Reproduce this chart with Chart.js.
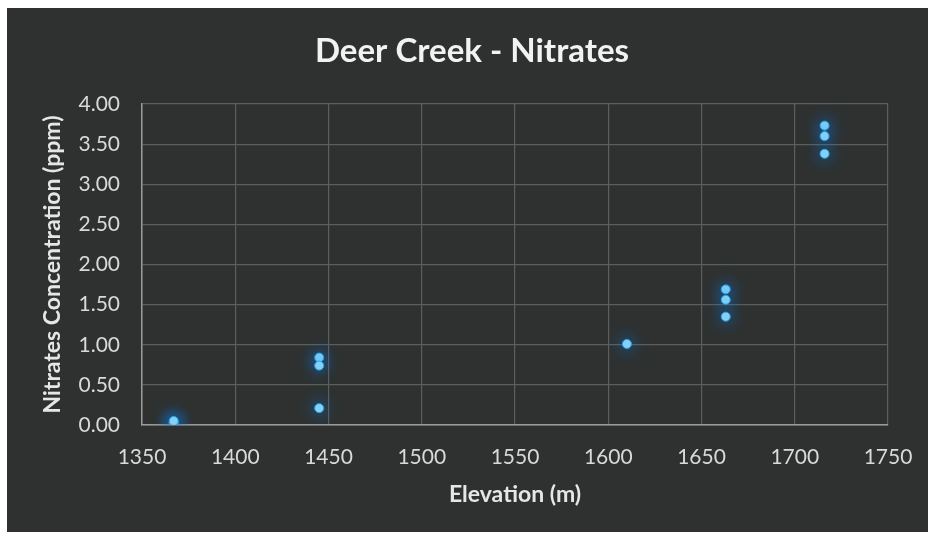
<!DOCTYPE html>
<html>
<head>
<meta charset="utf-8">
<script src="https://cdn.jsdelivr.net/npm/chart.js@4.4.0/dist/chart.umd.min.js"></script>
<style>
  html, body { margin: 0; padding: 0; background: #ffffff; width: 928px; height: 535px; overflow: hidden; }
  #frame { position: absolute; left: 7px; top: 8px; width: 921px; height: 524px; background: #2e3130; }
  canvas { display: block; }
</style>
</head>
<body>
<div id="frame"><canvas id="c" width="921" height="524"></canvas></div>
<script>
const chartTitle = "Deer Creek - Nitrates";
const xAxisTitle = "Elevation (m)";
const yAxisTitle = "Nitrates Concentration (ppm)";
const elevations = [1367, 1367, 1367, 1445, 1445, 1445, 1610, 1663, 1663, 1663, 1716, 1716, 1716];
const nitrates   = [0.02, 0.03, 0.05, 0.84, 0.74, 0.21, 1.01, 1.69, 1.56, 1.35, 3.73, 3.60, 3.38];
const xMin = 1350, xMax = 1750, xStep = 50;
const yMin = 0, yMax = 4, yStep = 0.5;

const points = elevations.map((e, i) => ({ x: e, y: nitrates[i] }));

const glow = {
  id: 'glow',
  beforeDatasetsDraw(chart) {
    const ctx = chart.ctx;
    ctx.save();
    ctx.shadowColor = 'rgba(10,130,235,1)';
    ctx.shadowBlur = 16;
  },
  afterDatasetsDraw(chart) {
    chart.ctx.restore();
  }
};

const titleDraw = {
  id: 'titleDraw',
  afterDraw(chart) {
    const ctx = chart.ctx;
    ctx.save();
    ctx.fillStyle = '#f2f2f2';
    ctx.font = 'bold 33px Lato';
    ctx.textAlign = 'center';
    ctx.textBaseline = 'middle';
    ctx.fillText(chartTitle, 465, 43);
    ctx.restore();
  }
};

new Chart(document.getElementById('c'), {
  type: 'scatter',
  data: {
    datasets: [{
      data: points,
      pointRadius: 4.5,
      pointHoverRadius: 4.5,
      pointBackgroundColor: '#8ad6f7',
      pointBorderColor: '#2aa2ee',
      pointBorderWidth: 1
    }]
  },
  plugins: [glow, titleDraw],
  options: {
    responsive: false,
    animation: false,
    events: [],
    layout: { padding: { left: 0, right: 40, top: 96, bottom: 0 } },
    plugins: {
      legend: { display: false },
      tooltip: { enabled: false },
      title: { display: false }
    },
    scales: {
      x: {
        type: 'linear',
        min: xMin, max: xMax,
        ticks: { stepSize: xStep, color: '#d9d9d9', font: { family: 'Lato', size: 21 }, padding: 20, maxRotation: 0, callback: v => String(v) },
        grid: { color: '#5b5f5d', lineWidth: 1.2, drawTicks: false },
        border: { color: '#9a9c9b', width: 1.5 },
        title: { display: true, text: xAxisTitle, color: '#e6e6e6', font: { family: 'Lato', size: 23, weight: 'bold' }, padding: { top: 0, bottom: 24 } },
        afterFit(axis) { axis.height = 107; axis.paddingRight = 0; }
      },
      y: {
        type: 'linear',
        min: yMin, max: yMax,
        ticks: { stepSize: yStep, color: '#d9d9d9', font: { family: 'Lato', size: 21 }, padding: 22, callback: v => Number(v).toFixed(2) },
        grid: { color: '#5b5f5d', lineWidth: 1.2, drawTicks: false },
        border: { color: '#9a9c9b', width: 1.5 },
        title: { display: true, text: yAxisTitle, color: '#e6e6e6', font: { family: 'Lato', size: 23, weight: 'bold' }, padding: { top: 32, bottom: 0 } },
        afterFit(axis) { axis.width = 135; }
      }
    }
  }
});
</script>
</body>
</html>
